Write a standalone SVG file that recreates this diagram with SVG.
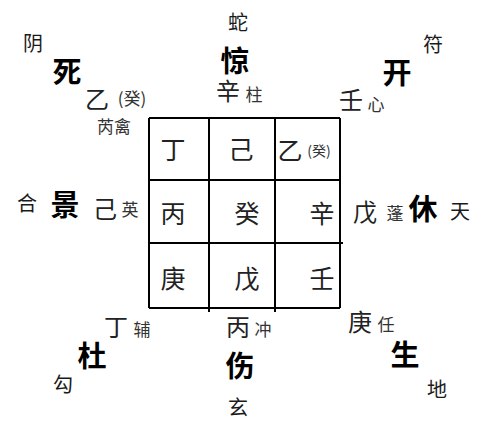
<svg xmlns="http://www.w3.org/2000/svg" width="500" height="426" viewBox="0 0 500 426">
<style>
text{font-family:"Noto Sans CJK SC","Noto Sans CJK TC",sans-serif;text-anchor:middle;dominant-baseline:central;fill:#1a1a1a}
.door{font-size:29px;font-weight:bold;fill:#000}
.god{font-size:20px}
.stem{font-size:24px;fill:#222}
.star{font-size:17px;fill:#333}
.cell{font-size:25px;fill:#222}
.sm{font-size:14px;fill:#333}
.grid line{stroke:#000;stroke-width:2}
</style>
<rect width="500" height="426" fill="#fff"/>
<g id="grid" class="grid">
<line x1="149" y1="118" x2="340" y2="118"/>
<line x1="149" y1="180" x2="340" y2="180"/>
<line x1="149" y1="243" x2="343" y2="243"/>
<line x1="149" y1="308" x2="340" y2="308"/>
<line x1="149" y1="118" x2="149" y2="308"/>
<line x1="209" y1="118" x2="209" y2="312"/>
<line x1="275" y1="118" x2="275" y2="312"/>
<line x1="340" y1="118" x2="340" y2="308"/>
</g>
<g id="cells">
<text class="cell" x="173" y="148">丁</text>
<text class="cell" x="241" y="148">己</text>
<text class="cell" x="290" y="149">乙</text>
<text class="sm" x="319" y="150">(癸)</text>
<text class="cell" x="173" y="212">丙</text>
<text class="cell" x="247" y="212">癸</text>
<text class="cell" x="322" y="212">辛</text>
<text class="cell" x="173" y="277">庚</text>
<text class="cell" x="247" y="277">戊</text>
<text class="cell" x="322" y="277">壬</text>
</g>
<g id="nw">
<text class="god" x="33" y="42">阴</text>
<text class="door" x="67" y="70">死</text>
<text class="stem" x="97" y="97">乙</text>
<text class="star" x="132" y="97">(癸)</text>
<text class="star" x="114" y="125">芮禽</text>
</g>
<g id="n">
<text class="god" x="238" y="21">蛇</text>
<text class="door" x="235" y="59">惊</text>
<text class="stem" x="228" y="89">辛</text>
<text class="star" x="254" y="93">柱</text>
</g>
<g id="ne">
<text class="god" x="433" y="43">符</text>
<text class="door" x="397" y="71">开</text>
<text class="stem" x="351" y="98">壬</text>
<text class="star" x="376" y="103">心</text>
</g>
<g id="w">
<text class="god" x="27" y="202">合</text>
<text class="door" x="65" y="203">景</text>
<text class="stem" x="105" y="207">己</text>
<text class="star" x="130" y="208">英</text>
</g>
<g id="e">
<text class="stem" x="365" y="210">戊</text>
<text class="star" x="395" y="212">蓬</text>
<text class="door" x="423" y="207">休</text>
<text class="god" x="460" y="210">天</text>
</g>
<g id="sw">
<text class="stem" x="116" y="325">丁</text>
<text class="star" x="142" y="328">辅</text>
<text class="door" x="92" y="354">杜</text>
<text class="god" x="63" y="383">勾</text>
</g>
<g id="s">
<text class="stem" x="238" y="325">丙</text>
<text class="star" x="263" y="328">冲</text>
<text class="door" x="240" y="364">伤</text>
<text class="god" x="238" y="406">玄</text>
</g>
<g id="se">
<text class="stem" x="360" y="320">庚</text>
<text class="star" x="386" y="323">任</text>
<text class="door" x="405" y="353">生</text>
<text class="god" x="437" y="388">地</text>
</g>
</svg>
